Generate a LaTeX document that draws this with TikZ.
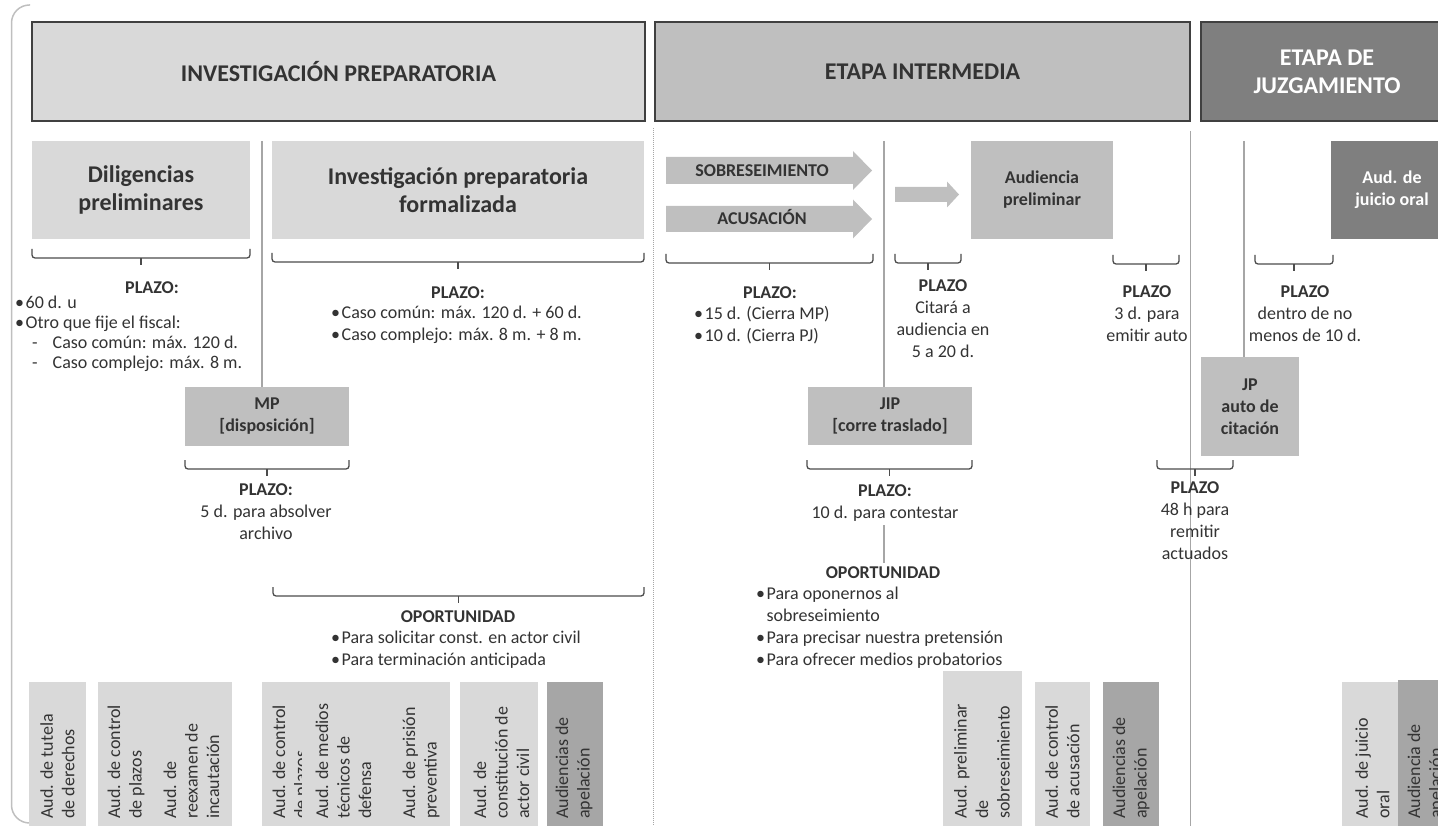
\documentclass[tikz,border=0pt]{standalone}
\usepackage{fontspec}
\setmainfont{Carlito}
\usepackage{tikz}

\definecolor{claro}{HTML}{D9D9D9}
\definecolor{medio}{HTML}{BFBFBF}
\definecolor{oscuro}{HTML}{7F7F7F}
\definecolor{apela}{HTML}{A6A6A6}
\definecolor{tinta}{HTML}{333333}
\definecolor{raya}{HTML}{A6A6A6}

\newcommand{\ftit}{\fontsize{24}{28}\selectfont\bfseries}
\newcommand{\fnorm}{\fontsize{18}{22}\selectfont}
\newcommand{\bul}{\textbullet\hspace{1.5pt}}
% llave bajo un bloque: x1, x2, y
\newcommand{\llave}[3]{%
	\draw[llave] (#1,#3-9) -- (#1,#3) -- (#2,#3) -- (#2,#3-9);
	\draw[llave] ({(#1+#2)/2},#3) -- ++(0,7);
}

\begin{document}
\begin{tikzpicture}[x=1pt,y=-1pt,
	etapa/.style={draw=black!75, line width=1.5pt, inner sep=0pt, align=center, font=\ftit, text=tinta},
	bloque/.style={inner sep=0pt, align=center, font=\ftit, text=tinta},
	caja/.style={inner sep=0pt, align=center, font=\fnorm\bfseries, text=tinta},
	texto/.style={inner sep=0pt, font=\fnorm, text=tinta},
	aud/.style={rotate=90, anchor=west, inner sep=0pt, align=left, font=\fontsize{18}{21.5}\selectfont, text=tinta},
	sep/.style={draw=raya, line width=2.5pt},
	llave/.style={draw=black!70, line width=1.3pt, rounded corners=3pt}]
	\useasboundingbox (0,0) rectangle (1438,826);
	\clip (0,0) rectangle (1438,826);

	\draw[medio, line width=1.5pt, rounded corners=18pt] (30,5) -- (11.5,5) -- (11.5,823) -- (30,823);

	% etapas
	\node[etapa, fill=claro, minimum width=613pt, minimum height=99pt] (ip) at (338.5,71.5) {INVESTIGACIÓN PREPARATORIA};
	\node[etapa, fill=medio, minimum width=535pt, minimum height=99pt] (ei) at (922.5,71.5) {ETAPA INTERMEDIA};
	\node[etapa, fill=oscuro, text=white, minimum width=252pt, minimum height=99pt] (ej) at (1327,71.5) {ETAPA DE\\JUZGAMIENTO};

	\draw[gray!70, densely dotted, line width=1pt] (653,128) -- (653,830);
	\draw[raya, line width=1pt] (1190,131) -- (1190,830);

	% audiencias (abajo)
	\fill[claro] (29,682) rectangle (86,830);
	\fill[claro] (98,682) rectangle (232,830);
	\fill[claro] (262,682) rectangle (450,830);
	\fill[claro] (460,682) rectangle (538,830);
	\fill[apela] (547,682) rectangle (603,830);
	\fill[claro] (943,671) rectangle (1022,830);
	\fill[claro] (1035,682) rectangle (1090,830);
	\fill[apela] (1103,682) rectangle (1159,830);
	\fill[claro] (1342,682) rectangle (1398,830);
	\fill[apela] (1398,680) rectangle (1450,830);

	\node[aud] (a1) at (57.5,819) {Aud. de tutela\\de derechos};
	\node[aud] (a2) at (126,819) {Aud. de control\\de plazos};
	\node[aud] (a3) at (191.5,819) {Aud. de\\reexamen de\\incautación};
	\node[aud] (a4) at (291,819) {Aud. de control\\de plazos};
	\node[aud, fill=claro, inner ysep=14pt] (a5) at (343.5,819) {Aud. de medios\\técnicos de\\defensa};
	\node[aud] (a6) at (421,819) {Aud. de prisión\\preventiva};
	\node[aud] (a7) at (501.5,819) {Aud. de\\constitución de\\actor civil};
	\node[aud] (a8) at (574,819) {Audiencias de\\apelación};
	\node[aud] (a9) at (982,819) {Aud. preliminar\\de\\sobreseimiento};
	\node[aud] (a10) at (1062.5,819) {Aud. de control\\de acusación};
	\node[aud] (a11) at (1131,819) {Audiencias de\\apelación};
	\node[aud] (a12) at (1372.5,819) {Aud. de juicio\\oral};
	\node[aud] (a13) at (1426,819) {Audiencia de\\apelación};

	% investigacion preparatoria
	\node[bloque, fill=claro, minimum width=218pt, minimum height=98pt] (dil) at (141,190) {Diligencias\\preliminares};
	\node[bloque, fill=claro, minimum width=372pt, minimum height=98pt] (ipf) at (458,190) {Investigación preparatoria\\formalizada};
	\node[caja, fill=medio, minimum width=164pt, minimum height=59pt] (mp) at (267,416.5) {MP\\{[disposición]}};
	\draw[sep] (262,141) -- (262,387);

	\llave{32}{250}{258}
	\llave{272}{644}{262}
	\llave{185}{349}{469}
	\llave{273}{644}{596}

	\node[texto, font=\fnorm\bfseries, anchor=north] (pl1) at (152,281) {PLAZO:};
	\node[texto, anchor=north west, align=left, font=\fontsize{18}{20}\selectfont] (li1) at (15,296) {\bul 60 d. u\\\bul Otro que fije el fiscal:\\\hspace*{17pt}-\hspace{15pt}Caso común: máx. 120 d.\\\hspace*{17pt}-\hspace{15pt}Caso complejo: máx. 8 m.};
	\node[texto, font=\fnorm\bfseries, anchor=north] (pl2) at (458,286) {PLAZO:};
	\node[texto, anchor=north west, align=left] (li2) at (331,306) {\bul Caso común: máx. 120 d. + 60 d.\\\bul Caso complejo: máx. 8 m. + 8 m.};
	\node[texto, anchor=north, align=center] (pl3) at (266,483) {\textbf{PLAZO:}\\5 d. para absolver\\archivo};
	\node[texto, font=\fnorm\bfseries, anchor=north] (op1) at (458,610) {OPORTUNIDAD};
	\node[texto, anchor=north west, align=left] (li3) at (331,631) {\bul Para solicitar const. en actor civil\\\bul Para terminación anticipada};

	% etapa intermedia
	\fill[medio] (666,157) -- (853,157) -- (853,151) -- (872,170.5) -- (853,190) -- (853,184) -- (666,184) -- cycle;
	\node[caja, anchor=base] (sob) at (762,177) {SOBRESEIMIENTO};
	\fill[medio] (666,206) -- (853,206) -- (853,199.5) -- (872,219) -- (853,238.5) -- (853,232) -- (666,232) -- cycle;
	\node[caja, anchor=base] (acu) at (762,225) {ACUSACIÓN};
	\fill[medio] (895,187) -- (947,187) -- (947,181.5) -- (959,194.5) -- (947,207.5) -- (947,202) -- (895,202) -- cycle;
	\node[caja, fill=medio, minimum width=142pt, minimum height=98pt] (audp) at (1042,190) {Audiencia\\preliminar};
	\node[caja, fill=medio, minimum width=164pt, minimum height=58pt] (jip) at (890,416) {JIP\\{[corre traslado]}};
	\draw[sep] (884,141) -- (884,387);
	\draw[sep] (884,525) -- (884,563);

	\llave{666}{873}{263}
	\llave{895}{961}{263}
	\llave{807}{972}{469}
	\llave{1113}{1179}{264}

	\node[texto, font=\fnorm\bfseries, anchor=north] (pl4) at (770,286) {PLAZO:};
	\node[texto, anchor=north west, align=left] (li4) at (694,306) {\bul 15 d. (Cierra MP)\\\bul 10 d. (Cierra PJ)};
	\node[texto, anchor=north, align=center] (pl5) at (943,279) {\textbf{PLAZO}\\Citará a\\audiencia en\\5 a 20 d.};
	\node[texto, anchor=north, align=center] (pl6) at (885,484) {\textbf{PLAZO:}\\10 d. para contestar};
	\node[texto, font=\fnorm\bfseries, anchor=north] (op2) at (883,566) {OPORTUNIDAD};
	\node[texto, anchor=north west, align=left] (li5) at (756,587) {\bul Para oponernos al\\\hphantom{\bul}sobreseimiento\\\bul Para precisar nuestra pretensión\\\bul Para ofrecer medios probatorios};
	\node[texto, anchor=north, align=center] (pl7) at (1147,285) {\textbf{PLAZO}\\3 d. para\\emitir auto};

	% juzgamiento
	\node[caja, fill=oscuro, text=white, minimum width=122pt, minimum height=98pt] (ajo) at (1392,190) {Aud. de\\juicio oral};
	\node[caja, fill=medio, minimum width=98pt, minimum height=99pt] (jp) at (1250,406.5) {JP\\auto de\\citación};
	\draw[sep] (1244,141) -- (1244,357);

	\llave{1255}{1333}{264}
	\llave{1157}{1233}{469}

	\node[texto, anchor=north, align=center] (pl8) at (1305,285) {\textbf{PLAZO}\\dentro de no\\menos de 10 d.};
	\node[texto, anchor=north, align=center] (pl9) at (1195,481) {\textbf{PLAZO}\\48 h para\\remitir\\actuados};
\end{tikzpicture}
\end{document}
